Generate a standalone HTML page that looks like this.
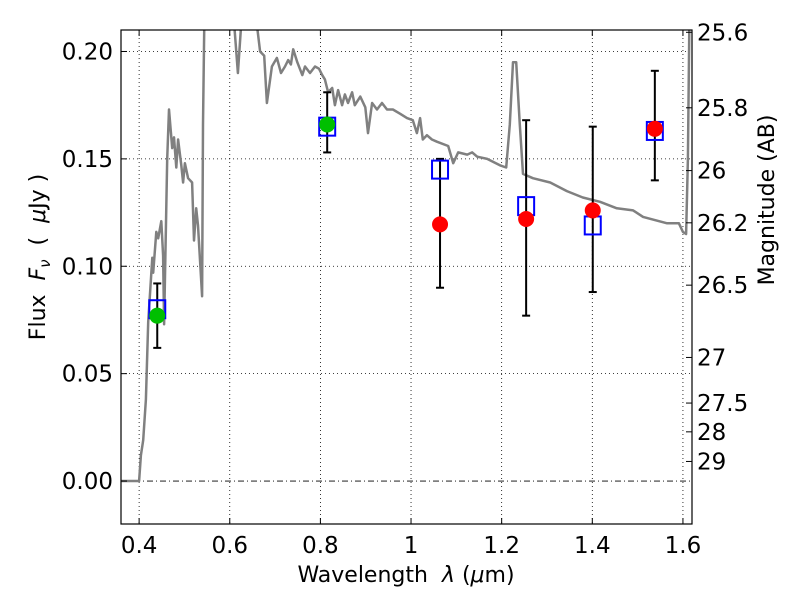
<!DOCTYPE html>
<html><head><meta charset="utf-8"><style>
html,body{margin:0;padding:0;background:#fff;}
svg text{font-family:"DejaVu Sans","Liberation Sans",sans-serif;fill:#000;}
</style></head><body>
<svg id="chart" width="800" height="600" viewBox="0 0 800 600" xmlns="http://www.w3.org/2000/svg">
<rect width="800" height="600" fill="#fff"/>
<defs><clipPath id="clip"><rect x="121" y="30" width="571" height="494"/></clipPath></defs>
<g id="grid"></g>
<g id="plot" clip-path="url(#clip)"></g>
<rect x="121" y="30" width="571" height="494" fill="none" stroke="#000" stroke-width="1.2"/>
<g id="axes"></g>
<text x="406" y="582" font-size="22" text-anchor="middle" xml:space="preserve">Wavelength  <tspan font-style="italic">λ</tspan> (<tspan font-style="italic">μ</tspan>m)</text>
<text transform="translate(45,257) rotate(-90)" font-size="22" text-anchor="middle" xml:space="preserve">Flux  <tspan font-style="italic">F</tspan><tspan font-style="italic" font-size="15" dy="5">ν</tspan><tspan dy="-5">  (  </tspan><tspan font-style="italic">μ</tspan>Jy )</text>
<text transform="translate(774,200) rotate(-90)" font-size="22" text-anchor="middle">Magnitude (AB)</text>
</svg>
<script>
const specWave=[0.36,0.400,0.404,0.409,0.415,0.420,0.429,0.431,0.438,0.442,0.449,0.453,0.455,0.462,0.466,0.473,0.477,0.482,0.486,0.493,0.497,0.501,0.508,0.517,0.521,0.526,0.530,0.539,0.541,0.546,0.56,0.60,0.610,0.618,0.625,0.64,0.655,0.660,0.667,0.676,0.682,0.693,0.704,0.713,0.722,0.729,0.735,0.740,0.749,0.760,0.766,0.777,0.788,0.797,0.804,0.810,0.817,0.826,0.832,0.839,0.848,0.854,0.861,0.870,0.876,0.888,0.899,0.905,0.914,0.925,0.936,0.947,0.960,0.976,0.991,1.004,1.013,1.020,1.026,1.035,1.046,1.057,1.082,1.093,1.104,1.124,1.135,1.146,1.168,1.196,1.210,1.218,1.225,1.232,1.240,1.247,1.269,1.307,1.344,1.379,1.417,1.454,1.490,1.512,1.565,1.591,1.600,1.607,1.611,1.616,1.63];
const specFlux=[0,0,0.012,0.019,0.038,0.074,0.104,0.097,0.116,0.113,0.121,0.105,0.073,0.150,0.173,0.155,0.160,0.146,0.159,0.147,0.139,0.148,0.141,0.139,0.112,0.127,0.119,0.086,0.166,0.25,0.26,0.26,0.212,0.190,0.212,0.26,0.25,0.212,0.200,0.198,0.176,0.193,0.197,0.190,0.193,0.196,0.194,0.201,0.195,0.189,0.193,0.190,0.193,0.192,0.189,0.187,0.181,0.183,0.175,0.182,0.175,0.180,0.176,0.181,0.175,0.179,0.174,0.162,0.176,0.173,0.176,0.173,0.173,0.171,0.169,0.168,0.162,0.169,0.159,0.161,0.159,0.158,0.156,0.148,0.153,0.152,0.153,0.151,0.150,0.147,0.146,0.166,0.195,0.195,0.166,0.143,0.141,0.139,0.135,0.132,0.130,0.127,0.126,0.123,0.120,0.120,0.116,0.115,0.150,0.25,0.26];
const modelWave=[0.440,0.815,1.064,1.254,1.401,1.538];
const modelFlux=[0.080,0.165,0.145,0.128,0.119,0.163];
const greenWave=[0.440,0.815];
const greenFlux=[0.077,0.166];
const greenLo=[0.062,0.153];
const greenHi=[0.092,0.181];
const redWave=[1.064,1.254,1.401,1.538];
const redFlux=[0.1195,0.122,0.126,0.164];
const redLo=[0.090,0.077,0.088,0.140];
const redHi=[0.150,0.168,0.165,0.191];
const xTicks=[0.4,0.6,0.8,1.0,1.2,1.4,1.6];
const xTickLabels=["0.4","0.6","0.8","1","1.2","1.4","1.6"];
const yTicks=[0,0.05,0.10,0.15,0.20];
const yTickLabels=["0.00","0.05","0.10","0.15","0.20"];
const magTicks=[25.6,25.8,26,26.2,26.5,27,27.5,28,29];
const magTickLabels=["25.6","25.8","26","26.2","26.5","27","27.5","28","29"];

const X0=121,X1=692,Y0=524,Y1=30,xmin=0.36,xmax=1.62,ymin=-0.02,ymax=0.21;
const sx=v=>X0+(v-xmin)/(xmax-xmin)*(X1-X0);
const sy=v=>Y0-(v-ymin)/(ymax-ymin)*(Y0-Y1);
const NS="http://www.w3.org/2000/svg";
function mk(tag,attrs,parent){const e=document.createElementNS(NS,tag);for(const k in attrs)e.setAttribute(k,attrs[k]);parent.appendChild(e);return e;}
const grid=document.getElementById('grid'),plot=document.getElementById('plot'),axes=document.getElementById('axes');

xTicks.forEach((t,i)=>{
  const x=sx(t);
  const g=mk('line',{x1:x,x2:x,y1:Y1,y2:Y0,stroke:'#000','stroke-width':0.8,'stroke-dasharray':'1,3'},grid);
  
  
  const tk=mk('line',{x1:x,x2:x,y1:Y0,y2:Y0-6,stroke:'#000','stroke-width':1},axes);
  
  
  const tk2=mk('line',{x1:x,x2:x,y1:Y1,y2:Y1+6,stroke:'#000','stroke-width':1},axes);
  
  
  const tx=mk('text',{x:x,y:553,'font-size':23,'text-anchor':'middle'},axes);
  tx.textContent=xTickLabels[i];
  
  
});
yTicks.forEach((t,i)=>{
  const y=sy(t);
  const g=mk('line',{x1:X0,x2:X1,y1:y,y2:y,stroke:'#000','stroke-width':0.8,'stroke-dasharray':t===0?'6,3,1,3':'1,3'},grid);
  
  
  const tk=mk('line',{x1:X0,x2:X0+6,y1:y,y2:y,stroke:'#000','stroke-width':1},axes);
  
  
  const tx=mk('text',{x:113,y:y+8,'font-size':23,'text-anchor':'end'},axes);
  tx.textContent=yTickLabels[i];
  
  
});
magTicks.forEach((m,i)=>{
  const f=Math.pow(10,(23.9-m)/2.5);
  const y=sy(f);
  const tk=mk('line',{x1:X1,x2:X1-6,y1:y,y2:y,stroke:'#000','stroke-width':1},axes);
  
  
  const tx=mk('text',{x:697,y:y+8,'font-size':23,'text-anchor':'start'},axes);
  tx.textContent=magTickLabels[i];
  
  
});

const pts=specWave.map((w,i)=>sx(w).toFixed(1)+','+sy(specFlux[i]).toFixed(1)).join(' ');
const sp=mk('polyline',{points:pts,fill:'none',stroke:'#808080','stroke-width':2.5,'stroke-linejoin':'round'},plot);



function errbar(w,lo,hi){
  const x=sx(w);
  const l=mk('line',{x1:x,x2:x,y1:sy(lo),y2:sy(hi),stroke:'#000','stroke-width':2},plot);
  
  
  [lo,hi].forEach(v=>{
    const c=mk('line',{x1:x-4,x2:x+4,y1:sy(v),y2:sy(v),stroke:'#000','stroke-width':2},plot);
    
    
  });
}
greenWave.forEach((w,i)=>errbar(w,greenLo[i],greenHi[i]));
redWave.forEach((w,i)=>errbar(w,redLo[i],redHi[i]));
modelWave.forEach((w,i)=>{
  const r=mk('rect',{x:sx(w)-8,y:sy(modelFlux[i])-9,width:16,height:18,fill:'none',stroke:'#0000ff','stroke-width':2},plot);
  
  
});
greenWave.forEach((w,i)=>{
  const c=mk('circle',{cx:sx(w),cy:sy(greenFlux[i]),r:8,fill:'#00bf00'},plot);
  
  
});
redWave.forEach((w,i)=>{
  const c=mk('circle',{cx:sx(w),cy:sy(redFlux[i]),r:8,fill:'#ff0000'},plot);
  
  
});
</script>
</body></html>
